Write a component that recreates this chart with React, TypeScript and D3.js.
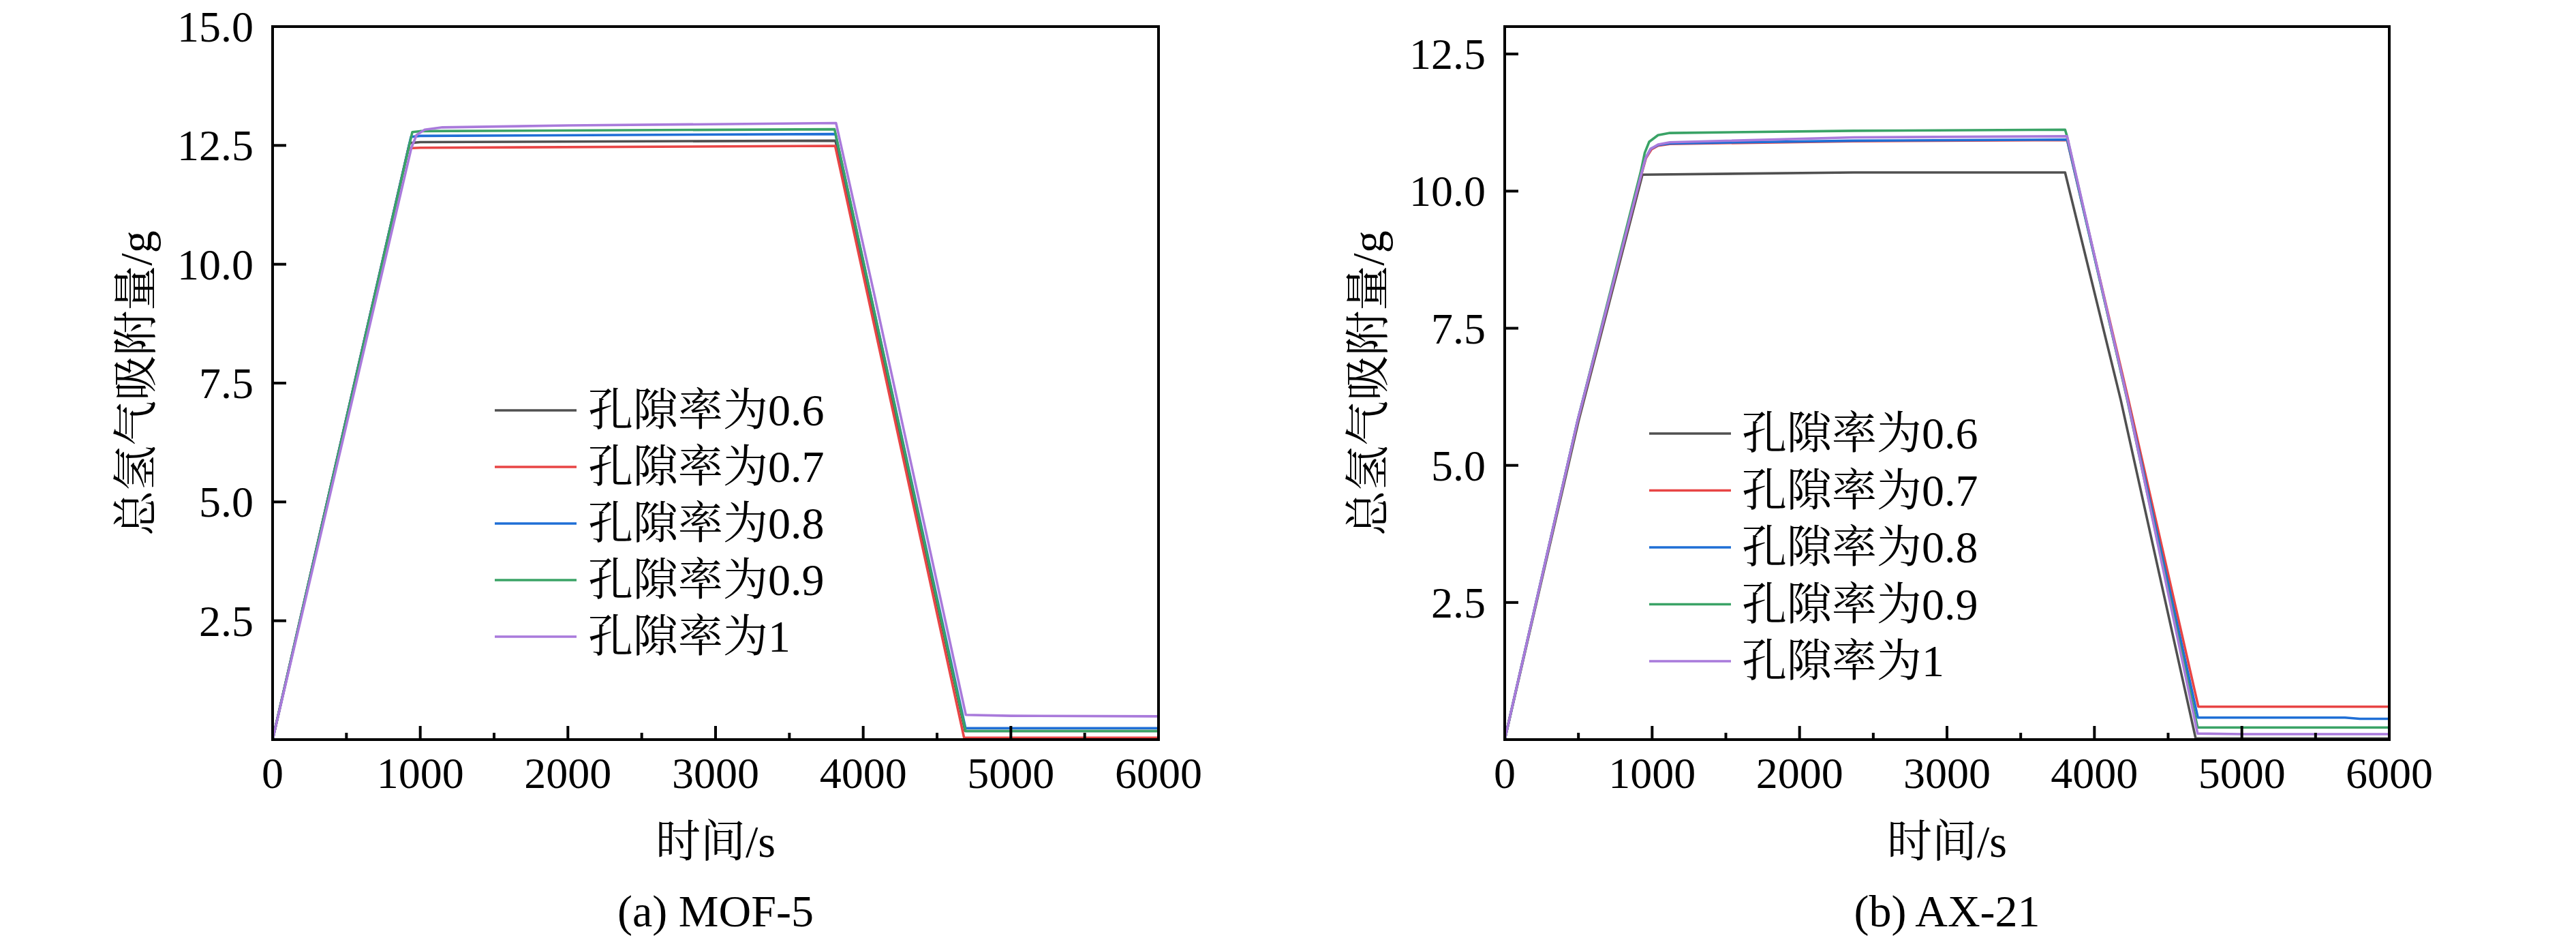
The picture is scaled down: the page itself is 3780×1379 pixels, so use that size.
import React from "react";
import * as d3 from "d3";

// ---------- data ----------
const legendLabels = ["孔隙率为0.6", "孔隙率为0.7", "孔隙率为0.8", "孔隙率为0.9", "孔隙率为1"];
const seriesColors = ["#505050", "#e84545", "#1f6fd6", "#3aa366", "#a97adb"];

const xTicksMajor = [0, 1000, 2000, 3000, 4000, 5000, 6000];
const xTicksMinor = [500, 1500, 2500, 3500, 4500, 5500];
const yTicksA = [2.5, 5.0, 7.5, 10.0, 12.5, 15.0];
const yTicksB = [2.5, 5.0, 7.5, 10.0, 12.5];

// (a) MOF-5 : [time s, adsorbed g]
const mofP06: [number, number][] = [[0, 0], [928, 12.55], [1000, 12.57], [3812, 12.6], [4690, 0.18], [6000, 0.18]];
const mofP07: [number, number][] = [[0, 0], [920, 12.44], [1000, 12.45], [3810, 12.49], [4683, 0.04], [6000, 0.04]];
const mofP08: [number, number][] = [[0, 0], [937, 12.68], [1000, 12.7], [3812, 12.74], [4693, 0.24], [6000, 0.24]];
const mofP09: [number, number][] = [[0, 0], [946, 12.78], [1000, 12.8], [3806, 12.84], [4693, 0.18], [6000, 0.18]];
const mofP10: [number, number][] = [[0, 0], [940, 12.45], [975, 12.72], [1030, 12.83], [1150, 12.88], [2000, 12.92], [3816, 12.97], [4073, 9.39], [4695, 0.52], [5000, 0.5], [6000, 0.49]];

// (b) AX-21
const axP06: [number, number][] = [[0, 0], [500, 5.8], [934, 10.3], [2367, 10.34], [3801, 10.34], [4178, 6.2], [4687, 0.02], [6000, 0.02]];
const axP07: [number, number][] = [[0, 0], [495, 5.8], [930, 10.33], [958, 10.6], [995, 10.76], [1040, 10.83], [1120, 10.86], [2367, 10.91], [3815, 10.93], [4226, 6.25], [4705, 0.6], [6000, 0.6]];
const axP08: [number, number][] = [[0, 0], [493, 5.8], [930, 10.35], [955, 10.6], [990, 10.77], [1040, 10.84], [1120, 10.87], [2367, 10.92], [3815, 10.94], [4224, 6.2], [4702, 0.4], [5700, 0.4], [5800, 0.38], [6000, 0.38]];
const axP09: [number, number][] = [[0, 0], [493, 5.8], [925, 10.38], [950, 10.7], [980, 10.9], [1040, 11.02], [1120, 11.06], [2367, 11.1], [3801, 11.12], [3812, 11.02], [4222, 6.2], [4700, 0.22], [6000, 0.22]];
const axP10: [number, number][] = [[0, 0], [493, 5.8], [930, 10.35], [955, 10.6], [990, 10.77], [1040, 10.85], [1120, 10.89], [2367, 10.98], [3815, 11.0], [4224, 6.2], [4700, 0.11], [5000, 0.1], [6000, 0.1]];

const seriesA = [mofP06, mofP07, mofP08, mofP09, mofP10];
const seriesB = [axP06, axP07, axP08, axP09, axP10];

const FONT = "'Liberation Serif', 'Times New Roman', 'Noto Serif CJK SC', 'Noto Sans CJK SC', serif";

type PanelProps = {
  left: number; right: number; top: number; bottom: number;
  yMax: number; yTicks: number[]; series: [number, number][][];
  legend: { x1: number; x2: number; tx: number; y0: number; step: number };
  yTitleX: number; caption: string;
};

function Panel(p: PanelProps) {
  const x = d3.scaleLinear().domain([0, 6000]).range([p.left, p.right]);
  const y = d3.scaleLinear().domain([0, p.yMax]).range([p.bottom, p.top]);
  const line = d3.line<[number, number]>().x((d) => x(d[0])).y((d) => y(d[1]));
  const cx = (p.left + p.right) / 2;
  const cy = (p.top + p.bottom) / 2;
  return (
    <g fontFamily={FONT} fill="#000">
      {p.series.map((s, i) => (
        <path key={i} d={line(s) || ""} fill="none" stroke={seriesColors[i]} strokeWidth={3.6} strokeLinejoin="round" />
      ))}
      <rect x={p.left} y={p.top} width={p.right - p.left} height={p.bottom - p.top} fill="none" stroke="#000" strokeWidth={4} />
      {xTicksMajor.map((t) => (
        <g key={"xm" + t}>
          <line x1={x(t)} x2={x(t)} y1={p.bottom} y2={p.bottom - 20} stroke="#000" strokeWidth={4} />
          <text x={x(t)} y={p.bottom + 71} fontSize={64} textAnchor="middle">{t}</text>
        </g>
      ))}
      {xTicksMinor.map((t) => (
        <line key={"xn" + t} x1={x(t)} x2={x(t)} y1={p.bottom} y2={p.bottom - 10} stroke="#000" strokeWidth={4} />
      ))}
      {p.yTicks.map((t) => (
        <g key={"y" + t}>
          <line x1={p.left} x2={p.left + 20} y1={y(t)} y2={y(t)} stroke="#000" strokeWidth={4} />
          <text x={p.left - 28} y={y(t) + 22} fontSize={64} textAnchor="end">{t.toFixed(1)}</text>
        </g>
      ))}
      <text x={cx} y={1257} fontSize={66} textAnchor="middle">时间/s</text>
      <text x={p.yTitleX} y={cy} fontSize={66} textAnchor="middle" dominantBaseline="central" transform={`rotate(-90 ${p.yTitleX} ${cy})`}>总氢气吸附量/g</text>
      <text x={cx} y={1359} fontSize={66} textAnchor="middle">{p.caption}</text>
      {legendLabels.map((lab, i) => {
        const ly = p.legend.y0 + i * p.legend.step;
        return (
          <g key={"lg" + i}>
            <line x1={p.legend.x1} x2={p.legend.x2} y1={ly} y2={ly} stroke={seriesColors[i]} strokeWidth={3.6} />
            <text x={p.legend.tx} y={ly + 22} fontSize={66}>{lab}</text>
          </g>
        );
      })}
    </g>
  );
}

export default function App() {
  return (
    <svg width={3780} height={1379} style={{ position: "absolute", left: 0, top: 0, background: "#fff" }}>
      <rect x={0} y={0} width={3780} height={1379} fill="#fff" />
      <Panel left={400} right={1700} top={39} bottom={1085} yMax={15} yTicks={yTicksA} series={seriesA}
        legend={{ x1: 726, x2: 846, tx: 863, y0: 602, step: 83 }} yTitleX={199} caption="(a) MOF-5" />
      <Panel left={2208} right={3506} top={39} bottom={1085} yMax={13} yTicks={yTicksB} series={seriesB}
        legend={{ x1: 2420, x2: 2540, tx: 2556, y0: 636, step: 83.5 }} yTitleX={2007} caption="(b) AX-21" />
    </svg>
  );
}
